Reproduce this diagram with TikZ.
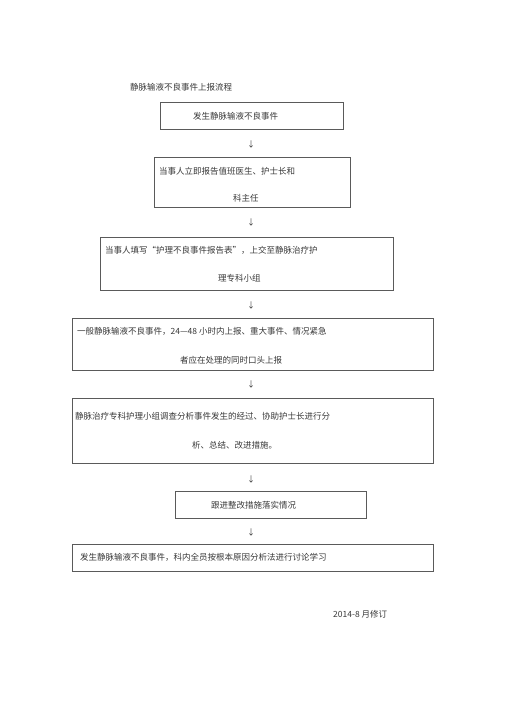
\documentclass[tikz,border=0pt]{standalone}
\usepackage{fontspec}
\newfontfamily\cjk{Noto Sans CJK SC}
\definecolor{txt}{RGB}{55,55,55}
\definecolor{ln}{RGB}{90,90,90}
\begin{document}
\begin{tikzpicture}[x=1pt,y=-1pt,
  box/.style={draw=ln,line width=0.8pt,anchor=north west,inner sep=0pt},
  lbl/.style={anchor=west,inner sep=0pt,font=\cjk\fontsize{8.5}{10}\selectfont,text=txt},
  arr/.style={inner sep=0pt,font=\cjk\fontsize{8}{9}\selectfont,text=txt}]
\useasboundingbox (0,0) rectangle (505,714);
\node[lbl] (title) at (130,87) {静脉输液不良事件上报流程};
% box 1
\node[box,minimum width=183pt,minimum height=27pt] (b1) at (160,102) {};
\node[lbl] (t1) at (193,116) {发生静脉输液不良事件};
\node[arr] (a1) at (251,144) {↓};
% box 2
\node[box,minimum width=196pt,minimum height=50pt] (b2) at (154,157) {};
\node[lbl] (t2a) at (159,171) {当事人立即报告值班医生、护士长和};
\node[lbl] (t2b) at (233,198) {科主任};
\node[arr] (a2) at (251,222) {↓};
% box 3
\node[box,minimum width=293pt,minimum height=53pt] (b3) at (100,237) {};
\node[lbl] (t3a) at (105,250) {当事人填写“护理不良事件报告表”，上交至静脉治疗护};
\node[lbl] (t3b) at (218,278) {理专科小组};
\node[arr] (a3) at (251,305) {↓};
% box 4
\node[box,minimum width=361pt,minimum height=52pt] (b4) at (72,318) {};
\node[lbl] (t4a) at (77,331) {一般静脉输液不良事件，24—48 小时内上报、重大事件、情况紧急};
\node[lbl] (t4b) at (180,360) {者应在处理的同时口头上报};
\node[arr] (a4) at (251,384) {↓};
% box 5
\node[box,minimum width=361pt,minimum height=65pt] (b5) at (72,398) {};
\node[lbl] (t5a) at (75,416) {静脉治疗专科护理小组调查分析事件发生的经过、协助护士长进行分};
\node[lbl] (t5b) at (192,445) {析、总结、改进措施。};
\node[arr] (a5) at (251,479) {↓};
% box 6
\node[box,minimum width=191pt,minimum height=27pt] (b6) at (175,491) {};
\node[lbl] (t6) at (211,505) {跟进整改措施落实情况};
\node[arr] (a6) at (251,532) {↓};
% box 7
\node[box,minimum width=361pt,minimum height=27pt] (b7) at (72,544) {};
\node[lbl] (t7) at (80,557) {发生静脉输液不良事件，科内全员按根本原因分析法进行讨论学习};
% footer
\node[lbl] (foot) at (333,614) {2014-8 月修订};
\end{tikzpicture}
\end{document}
